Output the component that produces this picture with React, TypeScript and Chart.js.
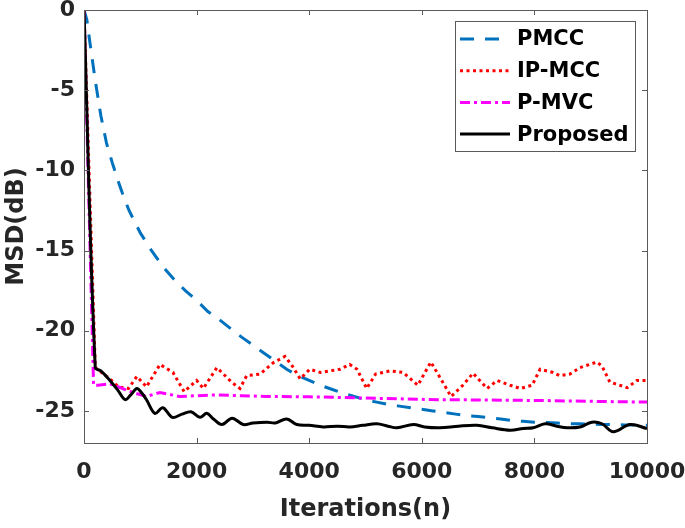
import { useEffect, useRef } from "react";
import { Chart, registerables } from "chart.js";
Chart.register(...registerables);

const xTickValues = [0, 2000, 4000, 6000, 8000, 10000];
const yTickValues = [0, -5, -10, -15, -20, -25];

const seriesNames = ["PMCC", "IP-MCC", "P-MVC", "Proposed"];

const pmccIter = [0, 50, 100, 200, 300, 400, 500, 600, 700, 800, 1000, 1200, 1400, 1600, 1800, 2000, 2200, 2400, 2600, 2800, 3000, 3200, 3400, 3600, 3800, 4000, 4200, 4400, 4600, 4800, 5000, 5200, 5400, 5600, 5800, 6000, 6200, 6400, 6600, 6800, 7000, 7200, 7400, 7600, 7800, 8000, 8200, 8400, 8600, 8800, 9000, 9200, 9400, 9600, 9800, 10000];
const pmccMSD = [0, -0.6, -1.9, -4.4, -6.6, -8.3, -9.5, -10.6, -11.6, -12.5, -13.9, -15.0, -16.0, -16.8, -17.5, -18.1, -18.8, -19.3, -19.85, -20.4, -20.9, -21.4, -21.9, -22.4, -22.8, -23.1, -23.4, -23.65, -23.9, -24.1, -24.3, -24.45, -24.6, -24.7, -24.8, -24.9, -25.0, -25.1, -25.2, -25.3, -25.35, -25.42, -25.5, -25.6, -25.65, -25.7, -25.72, -25.76, -25.8, -25.8, -25.82, -25.84, -25.85, -25.87, -25.88, -25.9];

const ipmccIter = [0, 200, 460, 610, 790, 940, 1110, 1350, 1580, 1780, 2000, 2120, 2360, 2620, 2770, 2890, 3130, 3360, 3570, 3700, 3840, 4010, 4200, 4370, 4550, 4720, 4850, 5020, 5180, 5440, 5670, 5930, 6160, 6320, 6520, 6730, 6910, 7160, 7340, 7570, 7750, 7960, 8100, 8330, 8450, 8630, 8810, 9110, 9200, 9340, 9650, 9820, 10000];
const ipmccMSD = [0, -22.3, -23.0, -23.5, -23.6, -22.85, -23.5, -22.1, -22.6, -23.8, -23.1, -23.6, -22.3, -23.2, -23.6, -22.8, -22.7, -22.0, -21.6, -22.2, -23.0, -22.4, -22.6, -22.5, -22.4, -22.1, -22.4, -23.6, -22.7, -22.5, -22.6, -23.4, -21.95, -22.9, -24.1, -23.4, -22.65, -23.6, -23.1, -23.4, -23.6, -23.4, -22.4, -22.6, -22.8, -22.7, -22.3, -21.95, -22.2, -23.2, -23.55, -23.1, -23.1];

const pmvcIter = [0, 170, 250, 460, 870, 1110, 1350, 1700, 2000, 2360, 2800, 3250, 4000, 4420, 5000, 6320, 7200, 8100, 9000, 10000];
const pmvcMSD = [0, -23.4, -23.4, -23.3, -23.85, -24.1, -23.85, -24.1, -24.05, -24.0, -24.05, -24.1, -24.12, -24.15, -24.2, -24.3, -24.32, -24.35, -24.4, -24.45];

const proposedIter = [0, 200, 300, 460, 600, 730, 830, 940, 1030, 1110, 1260, 1400, 1570, 1740, 1900, 2060, 2180, 2300, 2450, 2630, 2830, 3000, 3250, 3400, 3600, 3780, 4000, 4250, 4500, 4720, 4950, 5200, 5400, 5560, 5850, 6050, 6320, 6650, 6980, 7250, 7570, 7800, 7980, 8190, 8400, 8580, 8810, 9020, 9200, 9400, 9700, 10000];
const proposedMSD = [0, -22.3, -22.5, -23.1, -23.7, -24.3, -24.0, -23.6, -23.9, -24.3, -25.15, -24.8, -25.4, -25.2, -25.05, -25.4, -25.15, -25.5, -25.85, -25.45, -25.85, -25.75, -25.7, -25.75, -25.5, -25.85, -25.9, -26.0, -25.95, -26.0, -25.9, -25.8, -25.95, -26.05, -25.85, -26.0, -26.05, -25.95, -25.9, -26.05, -26.2, -26.1, -26.05, -25.8, -25.95, -26.05, -26.0, -25.7, -25.8, -26.3, -25.85, -26.1];

const FONT = "'DejaVu Sans', sans-serif";
const AXIS_COLOR = "#262626";

const styles = [
  { color: "#0072BD", dash: [14, 11], width: 3 },
  { color: "#FF0000", dash: [3, 3.5], width: 3 },
  { color: "#FF00FF", dash: [10, 4, 3, 4], width: 3 },
  { color: "#000000", dash: [] as number[], width: 3 },
];

const toPoints = (xs: number[], ys: number[]) => xs.map((x, i) => ({ x, y: ys[i] }));

const boxPlugin = {
  id: "boxTicks",
  afterDatasetsDraw(chart: any) {
    const { ctx, chartArea: a, scales } = chart;
    ctx.save();
    ctx.strokeStyle = "#5a5a5a";
    ctx.lineWidth = 1;
    ctx.setLineDash([]);
    ctx.strokeRect(a.left + 0.5, a.top + 0.5, a.right - a.left, a.bottom - a.top);
    const tl = 5;
    ctx.beginPath();
    for (const v of xTickValues) {
      const px = Math.round(scales.x.getPixelForValue(v)) + 0.5;
      ctx.moveTo(px, a.bottom);
      ctx.lineTo(px, a.bottom - tl);
      ctx.moveTo(px, a.top);
      ctx.lineTo(px, a.top + tl);
    }
    for (const v of yTickValues) {
      const py = Math.round(scales.y.getPixelForValue(v)) + 0.5;
      ctx.moveTo(a.left, py);
      ctx.lineTo(a.left + tl, py);
      ctx.moveTo(a.right, py);
      ctx.lineTo(a.right - tl, py);
    }
    ctx.stroke();
    ctx.restore();
  },
};

const legendPlugin = {
  id: "insideLegend",
  afterDraw(chart: any) {
    const { ctx } = chart;
    const bx = 455, by = 21, bw = 180, bh = 130;
    ctx.save();
    ctx.fillStyle = "#ffffff";
    ctx.fillRect(bx, by, bw, bh);
    ctx.strokeStyle = "#5a5a5a";
    ctx.lineWidth = 1;
    ctx.strokeRect(bx + 0.5, by + 0.5, bw, bh);
    const rowH = 31.7;
    seriesNames.forEach((name, i) => {
      const y = by + 18 + i * rowH;
      const s = styles[i];
      ctx.beginPath();
      ctx.strokeStyle = s.color;
      ctx.lineWidth = s.width;
      ctx.setLineDash(s.dash);
      ctx.moveTo(bx + 5, y);
      ctx.lineTo(bx + 55, y);
      ctx.stroke();
      ctx.setLineDash([]);
      ctx.fillStyle = "#000000";
      ctx.font = `bold 21px ${FONT}`;
      ctx.textBaseline = "middle";
      ctx.textAlign = "left";
      ctx.fillText(name, bx + 62, y + 1);
    });
    ctx.restore();
  },
};

export default function App() {
  const ref = useRef<HTMLCanvasElement>(null);
  useEffect(() => {
    const seriesData = [
      toPoints(pmccIter, pmccMSD),
      toPoints(ipmccIter, ipmccMSD),
      toPoints(pmvcIter, pmvcMSD),
      toPoints(proposedIter, proposedMSD),
    ];
    const drawOrder = [3, 2, 1, 0];
    const chart = new Chart(ref.current as HTMLCanvasElement, {
      type: "line",
      data: {
        datasets: seriesNames.map((name, i) => ({
          label: name,
          data: seriesData[i],
          borderColor: styles[i].color,
          borderWidth: styles[i].width,
          borderDash: styles[i].dash,
          pointRadius: 0,
          fill: false,
          tension: i === 3 ? 0.35 : 0,
          order: drawOrder[i],
        })),
      },
      options: {
        animation: false,
        responsive: false,
        parsing: false as any,
        layout: { padding: { top: 10, right: 38, left: 0, bottom: 0 } },
        plugins: { legend: { display: false }, tooltip: { enabled: false } },
        scales: {
          x: {
            type: "linear",
            min: 0,
            max: 10000,
            grid: { display: false, drawTicks: false },
            border: { display: false },
            afterBuildTicks: (s: any) => {
              s.ticks = xTickValues.map((v) => ({ value: v }));
            },
            afterFit: (s: any) => {
              s.height = 85;
              s.paddingLeft = 0;
              s.paddingRight = 0;
            },
            ticks: {
              padding: 16,
              color: AXIS_COLOR,
              maxRotation: 0,
              autoSkip: false,
              font: { family: FONT, weight: "bold", size: 22 },
              callback: (v: any) => String(v),
            },
            title: {
              display: true,
              text: "Iterations(n)",
              color: AXIS_COLOR,
              font: { family: FONT, weight: "bold", size: 24 },
              padding: { top: 0, bottom: 4 },
            },
          },
          y: {
            type: "linear",
            min: -27,
            max: 0,
            grid: { display: false, drawTicks: false },
            border: { display: false },
            afterBuildTicks: (s: any) => {
              s.ticks = yTickValues.map((v) => ({ value: v }));
            },
            afterFit: (s: any) => {
              s.width = 84;
              s.paddingTop = 0;
              s.paddingBottom = 0;
            },
            ticks: {
              padding: 9,
              color: AXIS_COLOR,
              autoSkip: false,
              font: { family: FONT, weight: "bold", size: 22 },
              callback: (v: any) => String(v),
            },
            title: {
              display: true,
              text: "MSD(dB)",
              color: AXIS_COLOR,
              font: { family: FONT, weight: "bold", size: 24 },
              padding: { top: 2, bottom: 0 },
            },
          },
        },
      } as any,
      plugins: [boxPlugin, legendPlugin],
    });
    return () => chart.destroy();
  }, []);
  return (
    <div style={{ position: "absolute", left: 0, top: 0, width: 685, height: 528, background: "#ffffff" }}>
      <canvas ref={ref} width={685} height={528} style={{ display: "block" }} />
    </div>
  );
}
